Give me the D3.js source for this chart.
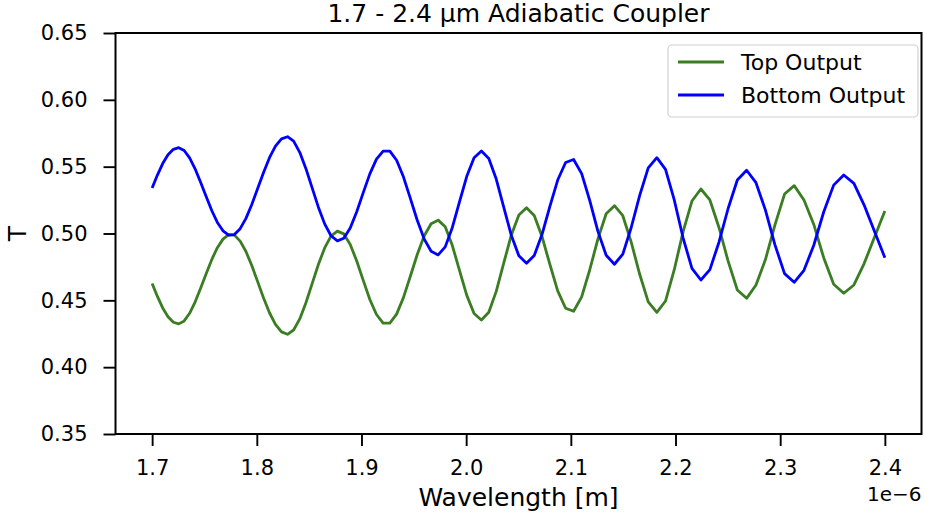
<!DOCTYPE html>
<html>
<head>
<meta charset="utf-8">
<script src="https://cdn.jsdelivr.net/npm/d3@7"></script>
<style>
  html, body { margin: 0; padding: 0; background: #fff; }
  svg { display: block; font-family: "DejaVu Sans", sans-serif; }
</style>
</head>
<body>
<svg id="chart" width="925" height="514"></svg>
<script>
// Wavelength samples (x 1e-6 m), uniform in frequency as exported by the simulator
const wavelength = [
  1.70000,1.70502,1.71008,1.71516,1.72027,1.72542,1.73059,1.73580,1.74103,1.74630,
  1.75160,1.75694,1.76230,1.76770,1.77313,1.77860,1.78410,1.78963,1.79520,1.80080,
  1.80644,1.81211,1.81782,1.82356,1.82935,1.83516,1.84102,1.84693,1.85286,1.85881,
  1.86482,1.87087,1.87695,1.88308,1.88925,1.89546,1.90168,1.90798,1.91432,1.92068,
  1.92710,1.93356,1.94006,1.94660,1.95319,1.95983,1.96650,1.97323,1.98000,1.98681,
  1.99368,2.00059,2.00755,2.01456,2.02162,2.02873,2.03588,2.04309,2.05035,2.05766,
  2.06503,2.07244,2.07991,2.08744,2.09502,2.10265,2.11034,2.11809,2.12589,2.13375,
  2.14167,2.14965,2.15769,2.16579,2.17395,2.18217,2.19045,2.19880,2.20721,2.21569,
  2.22423,2.23284,2.24151,2.25026,2.25906,2.26793,2.27688,2.28590,2.29500,2.30416,
  2.31339,2.32271,2.33209,2.34156,2.35110,2.36072,2.37042,2.38019,2.39005,2.40000
];

const topOutput = [
  0.4626,0.4529,0.4443,0.4377,0.4336,0.4324,0.4346,0.4403,0.4487,0.4590,
  0.4699,0.4804,0.4894,0.4958,0.4992,0.4988,0.4943,0.4865,0.4760,0.4640,
  0.4518,0.4407,0.4320,0.4264,0.4246,0.4278,0.4361,0.4482,0.4625,0.4768,
  0.4892,0.4981,0.5018,0.4997,0.4918,0.4794,0.4649,0.4506,0.4394,0.4330,
  0.4330,0.4397,0.4520,0.4678,0.4841,0.4981,0.5073,0.5100,0.5050,0.4910,
  0.4722,0.4537,0.4401,0.4353,0.4411,0.4567,0.4778,0.4987,0.5139,0.5193,
  0.5135,0.4978,0.4770,0.4571,0.4441,0.4418,0.4526,0.4729,0.4960,0.5148,
  0.5208,0.5133,0.4935,0.4695,0.4489,0.4410,0.4495,0.4729,0.5012,0.5243,
  0.5333,0.5251,0.5045,0.4793,0.4577,0.4515,0.4615,0.4805,0.5065,0.5295,
  0.5358,0.5251,0.5068,0.4819,0.4620,0.4553,0.4615,0.4775,0.4972,0.5168
];

const bottomOutput = [
  0.5340,0.5437,0.5523,0.5589,0.5630,0.5642,0.5621,0.5566,0.5484,0.5383,
  0.5276,0.5172,0.5083,0.5020,0.4988,0.4992,0.5036,0.5113,0.5217,0.5336,
  0.5457,0.5567,0.5653,0.5708,0.5724,0.5691,0.5607,0.5485,0.5341,0.5197,
  0.5072,0.4983,0.4945,0.4964,0.5041,0.5163,0.5306,0.5446,0.5556,0.5617,
  0.5616,0.5548,0.5424,0.5265,0.5101,0.4960,0.4867,0.4840,0.4900,0.5045,
  0.5238,0.5428,0.5567,0.5617,0.5561,0.5407,0.5197,0.4987,0.4833,0.4777,
  0.4835,0.4992,0.5201,0.5400,0.5531,0.5554,0.5448,0.5246,0.5016,0.4837,
  0.4770,0.4846,0.5045,0.5285,0.5491,0.5567,0.5480,0.5251,0.4968,0.4739,
  0.4652,0.4730,0.4935,0.5187,0.5400,0.5473,0.5380,0.5175,0.4915,0.4700,
  0.4635,0.4725,0.4912,0.5161,0.5362,0.5438,0.5375,0.5213,0.5016,0.4819
];

const seriesNames = ["Top Output", "Bottom Output"];
const seriesColors = ["#3a7d22", "#0000ff"];
const xTicks = [1.7, 1.8, 1.9, 2.0, 2.1, 2.2, 2.3, 2.4];
const yTicks = [0.35, 0.40, 0.45, 0.50, 0.55, 0.60, 0.65];
const titleText = "1.7 - 2.4 µm Adiabatic Coupler";
const xLabel = "Wavelength [m]";
const yLabel = "T";
const xOffsetText = "1e\u22126";

const svg = d3.select("#chart");
const L = 115.5, R = 921.5, T = 33, B = 434;

const x = d3.scaleLinear().domain([1.665, 2.435]).range([L, R]);
const y = d3.scaleLinear().domain([0.35, 0.65]).range([B, T]);

// lines
const data = [topOutput, bottomOutput];
const line = d3.line().x((d, i) => x(wavelength[i])).y(d => y(d));
svg.append("g").selectAll("path").data(data).join("path")
  .attr("d", d => line(d))
  .attr("fill", "none")
  .attr("stroke", (d, i) => seriesColors[i])
  .attr("stroke-width", 2.8)
  .attr("stroke-linejoin", "round")
  .attr("stroke-linecap", "butt");

// axes
const xAxis = d3.axisBottom(x).tickValues(xTicks).tickFormat(d3.format(".1f"))
  .tickSize(12).tickPadding(14);
const yAxis = d3.axisLeft(y).tickValues(yTicks).tickFormat(d3.format(".2f"))
  .tickSize(12).tickPadding(16);

const gx = svg.append("g").attr("transform", `translate(0,${B})`).call(xAxis);
const gy = svg.append("g").attr("transform", `translate(${L},0)`).call(yAxis);
[gx, gy].forEach(g => {
  g.select(".domain").remove();
  g.selectAll(".tick line").attr("stroke", "#000").attr("stroke-width", 1.9);
  g.selectAll(".tick text").attr("fill", "#000").style("font-size", "21px")
    .style("font-family", "DejaVu Sans, sans-serif");
});

// frame
svg.append("rect").attr("x", L).attr("y", T).attr("width", R - L).attr("height", B - T)
  .attr("fill", "none").attr("stroke", "#000").attr("stroke-width", 2);

// title & labels
svg.append("text").attr("x", (L + R) / 2).attr("y", 22).attr("text-anchor", "middle")
  .style("font-size", "25px").text(titleText);
svg.append("text").attr("x", (L + R) / 2).attr("y", 506).attr("text-anchor", "middle")
  .style("font-size", "25px").text(xLabel);
svg.append("text").attr("transform", `translate(26,${(T + B) / 2}) rotate(-90)`)
  .attr("text-anchor", "middle").style("font-size", "25px").text(yLabel);
svg.append("text").attr("x", R).attr("y", 501).attr("text-anchor", "end")
  .style("font-size", "20px").text(xOffsetText);

// legend
const lg = svg.append("g");
lg.append("rect").attr("x", 668).attr("y", 45).attr("width", 250).attr("height", 72)
  .attr("rx", 4).attr("fill", "#fff").attr("stroke", "#d0d0d0").attr("stroke-width", 1.2);
seriesNames.forEach((name, i) => {
  const yy = 62 + i * 33;
  lg.append("line").attr("x1", 678).attr("x2", 724).attr("y1", yy).attr("y2", yy)
    .attr("stroke", seriesColors[i]).attr("stroke-width", 2.8);
  lg.append("text").attr("x", 741).attr("y", yy + 8).style("font-size", "22px").text(name);
});
</script>
</body>
</html>
